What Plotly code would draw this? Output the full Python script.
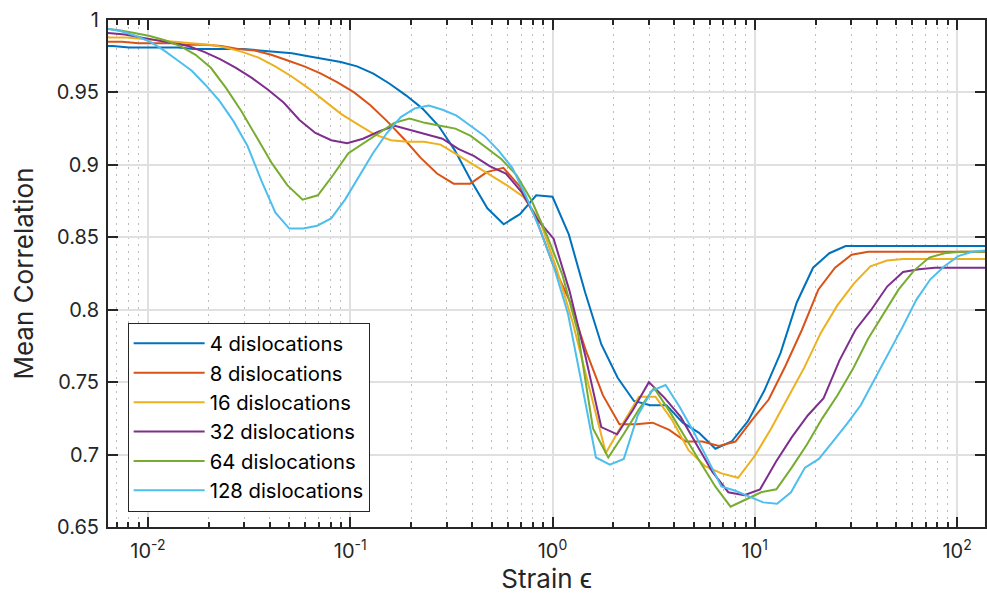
import numpy as np
import plotly.graph_objects as go

# ---------------- data ----------------
series_names = ["4 dislocations", "8 dislocations", "16 dislocations",
                "32 dislocations", "64 dislocations", "128 dislocations"]

corr_4 = [0.982, 0.982, 0.981, 0.981, 0.981, 0.981, 0.980, 0.980, 0.980, 0.980,
          0.979, 0.978, 0.977, 0.975, 0.973, 0.971, 0.968, 0.963, 0.956, 0.948,
          0.939, 0.927, 0.910, 0.889, 0.870, 0.859, 0.866, 0.879, 0.878, 0.852,
          0.812, 0.776, 0.753, 0.737, 0.734, 0.734, 0.722, 0.715, 0.704, 0.709,
          0.723, 0.744, 0.770, 0.805, 0.829, 0.839, 0.844, 0.844, 0.844, 0.844,
          0.844, 0.844, 0.844, 0.844, 0.844, 0.844]
strain_4 = np.logspace(-2.254, 2.1735, len(corr_4))

corr_8 = [0.985, 0.985, 0.984, 0.984, 0.984, 0.983, 0.983, 0.982, 0.980, 0.979,
          0.976, 0.972, 0.968, 0.963, 0.957, 0.950, 0.941, 0.930, 0.918, 0.905,
          0.894, 0.887, 0.887, 0.895, 0.898, 0.885, 0.862, 0.831, 0.806, 0.771,
          0.741, 0.721, 0.721, 0.722, 0.717, 0.709, 0.709, 0.706,
          0.709, 0.724, 0.738, 0.761, 0.786, 0.814, 0.829, 0.838, 0.840,
          0.840, 0.840, 0.840, 0.840, 0.840, 0.840, 0.840, 0.840]
strain_8 = np.logspace(-2.2105, 2.2164, len(corr_8))

corr_16 = [0.989, 0.988, 0.988, 0.987, 0.986, 0.985, 0.984, 0.983, 0.981, 0.978,
           0.974, 0.968, 0.961, 0.953, 0.944, 0.935, 0.928, 0.921, 0.917, 0.916,
           0.916, 0.914, 0.907, 0.900, 0.893, 0.886, 0.878, 0.862, 0.829, 0.791,
           0.746, 0.701, 0.721, 0.740, 0.740, 0.724, 0.703, 0.692, 0.687,
           0.684, 0.699, 0.718, 0.739, 0.760, 0.784, 0.803, 0.818, 0.830, 0.834,
           0.835, 0.835, 0.835, 0.835, 0.835, 0.835, 0.835]
strain_16 = np.logspace(-2.27, 2.2252, len(corr_16))

corr_32 = [0.992, 0.991, 0.990, 0.988, 0.986, 0.984, 0.982, 0.978, 0.973, 0.967,
           0.960, 0.952, 0.943, 0.931, 0.922, 0.917, 0.915, 0.918, 0.923, 0.927,
           0.924, 0.921, 0.918, 0.911, 0.906, 0.899, 0.894, 0.881, 0.862, 0.849,
           0.813, 0.768, 0.719, 0.714, 0.731,
           0.750, 0.739, 0.726, 0.707, 0.688, 0.674, 0.672, 0.676, 0.695, 0.712,
           0.727, 0.739, 0.765, 0.786, 0.800, 0.816, 0.826, 0.828, 0.829, 0.829,
           0.829, 0.829, 0.829]
strain_32 = np.logspace(-2.2717, 2.2039, len(corr_32))

corr_64 = [0.994, 0.993, 0.991, 0.989, 0.986, 0.982, 0.976, 0.967, 0.953, 0.937,
           0.919, 0.901, 0.886, 0.876, 0.879, 0.893, 0.908, 0.915, 0.922, 0.929,
           0.932, 0.929, 0.927, 0.925, 0.920, 0.912, 0.904, 0.893, 0.875, 0.851,
           0.824, 0.785, 0.718, 0.698, 0.714, 0.731, 0.746, 0.730, 0.712, 0.695,
           0.678, 0.664, 0.669, 0.674, 0.676, 0.691, 0.707, 0.725, 0.741, 0.759,
           0.780, 0.797, 0.814, 0.827, 0.836, 0.839, 0.840, 0.840, 0.840]
strain_64 = np.logspace(-2.2179, 2.1646, len(corr_64))

corr_128 = [0.995, 0.994, 0.992, 0.989, 0.985, 0.979, 0.972, 0.965, 0.955, 0.944,
            0.930, 0.913, 0.889, 0.867, 0.856, 0.856, 0.858, 0.863, 0.876, 0.892,
            0.908, 0.922, 0.933, 0.939, 0.941, 0.938, 0.934, 0.927, 0.920, 0.910,
            0.898, 0.878, 0.855, 0.829, 0.797, 0.748, 0.698, 0.693, 0.697, 0.727,
            0.744, 0.748, 0.733, 0.716, 0.697, 0.678, 0.675, 0.671, 0.667, 0.666,
            0.674, 0.691, 0.697, 0.709, 0.721, 0.734, 0.752, 0.769, 0.788, 0.807,
            0.821, 0.830, 0.837, 0.840, 0.841, 0.841]
strain_128 = np.logspace(-2.2655, 2.2124, len(corr_128))

x_tick_vals = [1e-2, 1e-1, 1e0, 1e1, 1e2]
x_tick_text = ["10<sup>-2</sup>", "10<sup>-1</sup>", "10<sup>0</sup>",
               "10<sup>1</sup>", "10<sup>2</sup>"]
y_tick_vals = [0.65, 0.7, 0.75, 0.8, 0.85, 0.9, 0.95, 1.0]
y_tick_text = ["0.65", "0.7", "0.75", "0.8", "0.85", "0.9", "0.95", "1"]

# ---------------- style ----------------
colors = ["#0072BD", "#D95319", "#EDB120", "#7E2F8E", "#77AC30", "#4DBEEE"]
strains = [strain_4, strain_8, strain_16, strain_32, strain_64, strain_128]
corrs = [corr_4, corr_8, corr_16, corr_32, corr_64, corr_128]

minor_vals = [m * 10.0 ** e for e in range(-3, 3) for m in range(2, 10)]

fig = go.Figure()
for name, xs, ys, c in zip(series_names, strains, corrs, colors):
    fig.add_trace(go.Scatter(x=xs, y=ys, mode="lines", name=name,
                             line=dict(color=c, width=2)))

axis_col = "#262626"
fam = "Inter, Liberation Sans, Arial, sans-serif"
fig.update_layout(
    width=987, height=606, autosize=False,
    margin=dict(l=108, r=0, t=20, b=79, pad=0),
    paper_bgcolor="white", plot_bgcolor="white",
    font=dict(family=fam, size=20, color=axis_col),
    showlegend=True,
    legend=dict(x=0.0224, y=0.403, xanchor="left", yanchor="top",
                bgcolor="white", bordercolor=axis_col, borderwidth=1,
                font=dict(family=fam, size=20.3, color="black"), itemwidth=71,
                tracegroupgap=0),
)
fig.update_xaxes(
    type="log", range=[-2.1975, 2.138],
    showline=True, linecolor=axis_col, linewidth=2, mirror="ticks",
    ticks="inside", ticklen=10, tickwidth=2, tickcolor=axis_col,
    tickmode="array", tickvals=x_tick_vals, ticktext=x_tick_text,
    ticklabelstandoff=5,
    showgrid=True, gridcolor="#e0e0e0", gridwidth=1.5, zeroline=False,
    minor=dict(tickmode="array", tickvals=minor_vals, ticks="inside", ticklen=5,
               tickwidth=1.5, tickcolor=axis_col, showgrid=True,
               gridcolor="#bdbdbd", griddash="2px,5px", gridwidth=1),
    title=dict(text="Strain ϵ", font=dict(family=fam, size=26, color=axis_col), standoff=2),
)
fig.update_yaxes(
    range=[0.65, 1.0],
    showline=True, linecolor=axis_col, linewidth=2, mirror="ticks",
    ticks="inside", ticklen=10, tickwidth=2, tickcolor=axis_col,
    tickmode="array", tickvals=y_tick_vals, ticktext=y_tick_text,
    ticklabelstandoff=3,
    showgrid=True, gridcolor="#e0e0e0", gridwidth=1.5, zeroline=False,
    title=dict(text="Mean Correlation", font=dict(family=fam, size=26, color=axis_col), standoff=16),
)

fig.write_html("out.html")
